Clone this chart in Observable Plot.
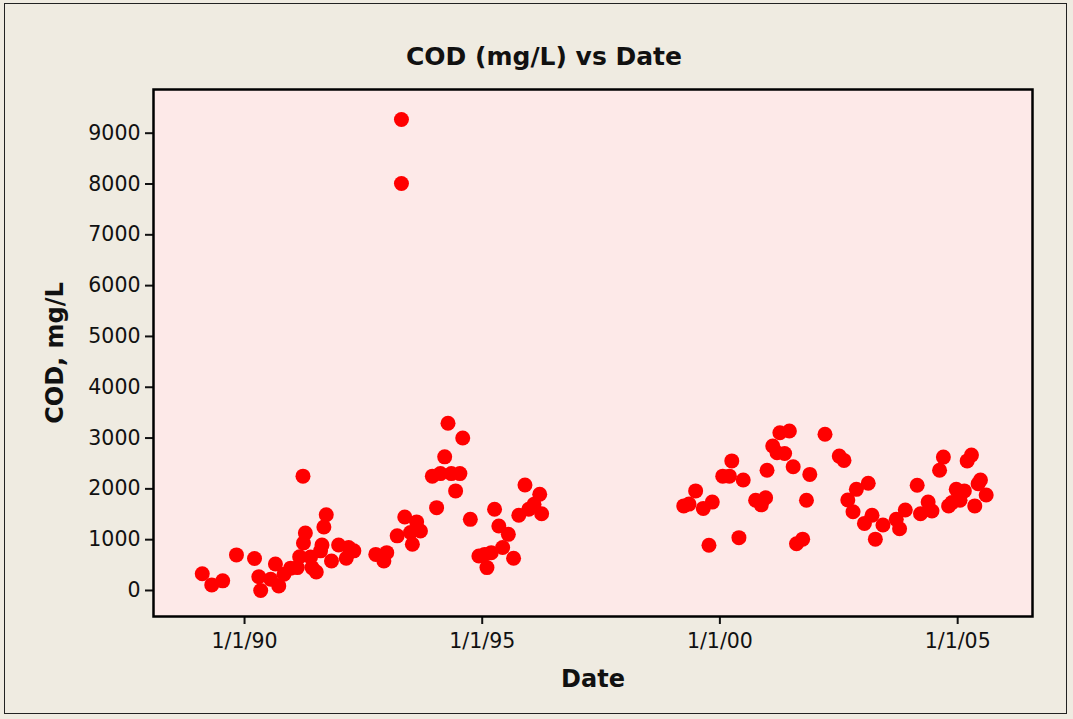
<!DOCTYPE html>
<html>
<head>
<meta charset="utf-8">
<script src="https://cdn.jsdelivr.net/npm/d3@7"></script>
<script src="https://cdn.jsdelivr.net/npm/@observablehq/plot@0.6"></script>
<style>
  html, body { margin: 0; padding: 0; background: #EFEBE1; }
  #page { position: relative; width: 1073px; height: 719px; background: #EFEBE1; overflow: hidden; }
  #border { position: absolute; left: 4px; top: 3px; width: 1063px; height: 711px; border: 1.5px solid #222; box-sizing: border-box; pointer-events: none; }
  #chart { position: absolute; left: 0; top: 0; }
</style>
</head>
<body>
<div id="page"><div id="chart"></div><div id="border"></div></div>
<script>
// Sample dates as decimal years, and COD values (mg/L)
const years = [
  1989.11, 1989.31, 1989.54, 1989.83, 1990.21, 1990.30, 1990.34, 1990.55, 1990.65, 1990.72,
  1990.83, 1990.97, 1991.11, 1991.23, 1991.72, 1991.67, 1991.28, 1991.24, 1991.16, 1991.39,
  1991.63, 1991.42, 1991.51, 1991.60, 1991.83, 1991.98, 1992.14, 1992.19, 1992.30, 1992.76,
  1992.99, 1992.93, 1993.21, 1993.30, 1993.30, 1993.37, 1993.62, 1993.70, 1993.49, 1993.53,
  1994.04, 1993.95, 1994.12, 1994.21, 1994.28, 1994.35, 1994.53, 1994.44, 1994.59, 1994.75,
  1994.93, 1995.10, 1995.05, 1995.19, 1995.26, 1995.35, 1995.43, 1995.55, 1995.66, 1995.77,
  1995.90, 1995.98, 1996.09, 1996.21, 1996.25,
  1999.24, 1999.35, 1999.49, 1999.65, 1999.84, 1999.77, 2000.06, 2000.20, 2000.25, 2000.40,
  2000.49, 2000.75, 2000.87, 2000.96, 2000.99, 2001.11, 2001.20, 2001.26, 2001.36, 2001.46,
  2001.54, 2001.61, 2001.74, 2001.82, 2001.89, 2002.21, 2002.51, 2002.61, 2002.69, 2002.80,
  2002.87, 2003.04, 2003.12, 2003.20, 2003.27, 2003.43, 2003.71, 2003.78, 2003.90, 2004.15,
  2004.22, 2004.38, 2004.46, 2004.62, 2004.70, 2004.81, 2004.88, 2004.97, 2005.05, 2005.14,
  2005.20, 2005.29, 2005.36, 2005.43, 2005.48, 2005.60
];
const cod = [
  330, 110, 190, 700, 630, 270, 0, 220, 520, 90,
  320, 440, 450, 2250, 1490, 1250, 1130, 935, 665, 660,
  895, 450, 365, 780, 580, 895, 635, 845, 780, 710,
  745, 580, 1075, 9270, 8010, 1445, 1350, 1170, 1140, 910,
  1630, 2250, 2300, 2630, 3290, 2300, 2300, 1960, 3000, 1400,
  680, 450, 710, 745, 1600, 1270, 845, 1105, 635, 1480,
  2075, 1600, 1695, 1895, 1510,
  1665, 1700, 1960, 1615, 1740, 890, 2250, 2250, 2550, 1040,
  2175, 1775, 1685, 1825, 2365, 2845, 2710, 3105, 2695, 3140,
  2435, 920, 1010, 1775, 2285, 3075, 2645, 2560, 1780, 1550,
  1990, 1320, 2110, 1480, 1010, 1290, 1400, 1215, 1585, 2070,
  1510, 1740, 1565, 2365, 2625, 1665, 1730, 1990, 1775, 1960,
  2550, 2665, 1665, 2100, 2175, 1880
];
const xTickYears = [1990, 1995, 2000, 2005];
const yTicks = [0, 1000, 2000, 3000, 4000, 5000, 6000, 7000, 8000, 9000];
const xDomainYears = [1988.086, 2006.575];
const yDomain = [-512, 9860];
const title = "COD (mg/L) vs Date";
const xLabel = "Date";
const yLabel = "COD, mg/L";

function toDate(d) {
  const y = Math.floor(d);
  const s = Date.UTC(y, 0, 1), e = Date.UTC(y + 1, 0, 1);
  return new Date(s + (d - y) * (e - s));
}
const data = years.map((y, i) => ({date: toDate(y), cod: cod[i]}));
const xTicks = xTickYears.map(y => new Date(Date.UTC(y, 0, 1)));
const fmt = d => `1/1/${String(d.getUTCFullYear()).slice(2)}`;

const font = "'DejaVu Sans', sans-serif";

const chart = Plot.plot({
  width: 1073,
  height: 719,
  marginLeft: 153,
  marginRight: 41,
  marginTop: 89,
  marginBottom: 103,
  style: {background: "transparent", fontFamily: font, fontSize: "20px", color: "#111", overflow: "visible"},
  x: {type: "utc", domain: xDomainYears.map(toDate)},
  y: {domain: yDomain},
  marks: [
    Plot.frame({fill: "#FDE9E8", stroke: null}),
    Plot.axisX({ticks: xTicks, tickFormat: fmt, tickSize: 8, tickPadding: 9, strokeWidth: 2, label: null, fontSize: 20.5}),
    Plot.axisY({ticks: yTicks, tickFormat: d => String(d), tickSize: 8, tickPadding: 5, strokeWidth: 2, label: null, fontSize: 20.5}),
    Plot.dot(data, {x: "date", y: "cod", r: 7.5, fill: "#FF0000", stroke: null}),
    Plot.frame({stroke: "#000", strokeWidth: 2.5}),
    Plot.text([title], {frameAnchor: "top", lineAnchor: "middle", textAnchor: "middle", dx: -49, dy: -33, fontSize: 25, fontWeight: "bold", fill: "#111"}),
    Plot.text([xLabel], {frameAnchor: "bottom", lineAnchor: "middle", textAnchor: "middle", dy: 63, fontSize: 24, fontWeight: "bold", fill: "#111"}),
    Plot.text([yLabel], {frameAnchor: "left", lineAnchor: "middle", textAnchor: "middle", dx: -98, rotate: -90, fontSize: 24, fontWeight: "bold", fill: "#111"})
  ]
});
document.getElementById("chart").appendChild(chart);
</script>
</body>
</html>
